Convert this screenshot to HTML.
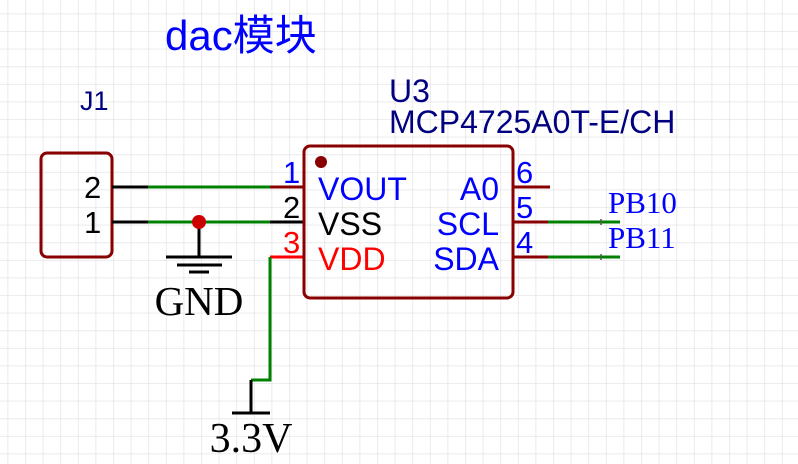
<!DOCTYPE html>
<html><head><meta charset="utf-8"><style>
html,body{margin:0;padding:0;background:#fff;}
svg{display:block;}
text{font-family:"Liberation Sans","Noto Sans CJK SC",sans-serif;}
.s{font-family:"Liberation Serif",serif;}
</style></head><body>
<svg width="798" height="464" viewBox="0 0 798 464" xmlns="http://www.w3.org/2000/svg">
<defs>
<pattern id="g" x="7.5" y="13.5" width="17.6" height="17.6" patternUnits="userSpaceOnUse">
<path d="M0 0V17.6M0 0H17.6" stroke="#e4e4e4" stroke-width="1.5" fill="none"/>
</pattern>
</defs>
<rect width="798" height="464" fill="url(#g)"/>
<text x="165" y="50" font-size="42" fill="#0000ff">dac模块</text>
<text x="80" y="110" font-size="27" fill="#000080">J1</text>
<text x="389" y="102" font-size="32" fill="#000080">U3</text>
<text x="389" y="133" font-size="32" fill="#000080">MCP4725A0T-E/CH</text>
<rect x="41" y="153" width="71" height="104" rx="6" fill="none" stroke="#880000" stroke-width="3"/>
<text x="84" y="198" font-size="31" fill="#000">2</text>
<text x="84" y="233" font-size="31" fill="#000">1</text>
<g stroke-width="3" fill="none">
<path d="M112 187H148M112 222H148" stroke="#000"/>
<path d="M148 187H270M148 222H270" stroke="#008000"/>
<path d="M270 187H304" stroke="#880000"/>
<path d="M270 222H304" stroke="#000"/>
<path d="M270 257H304" stroke="#ff0000"/>
<path d="M270 257V380H251" stroke="#008000"/>
<path d="M251 380V413M232 413H270" stroke="#000"/>
<path d="M199 222V257M166 257H232M177 265H222M189 272H209" stroke="#000"/>
<path d="M513 187H550M513 222H548M513 257H548" stroke="#880000"/>
<path d="M548 222H620M548 257H620" stroke="#008000"/>
<path d="M601 219V225M601 254V260" stroke="#555" stroke-width="1.5"/>
</g>
<circle cx="199" cy="222" r="7" fill="#cc0000"/>
<text class="s" x="199" y="315" font-size="41" text-anchor="middle" fill="#000">GND</text>
<text class="s" x="251" y="452" font-size="42" text-anchor="middle" fill="#000">3.3V</text>
<rect x="304" y="146" width="209" height="152" rx="6" fill="none" stroke="#880000" stroke-width="3"/>
<circle cx="321" cy="162" r="6" fill="#880000"/>
<text x="283" y="183" font-size="31" fill="#0000ff">1</text>
<text x="283" y="218" font-size="31" fill="#000">2</text>
<text x="283" y="253" font-size="31" fill="#ff0000">3</text>
<text x="318" y="200" font-size="32" fill="#0000ff">VOUT</text>
<text x="318" y="235" font-size="32" fill="#000">VSS</text>
<text x="318" y="270" font-size="32" fill="#ff0000">VDD</text>
<text x="499" y="200" font-size="32" fill="#0000ff" text-anchor="end">A0</text>
<text x="499" y="235" font-size="32" fill="#0000ff" text-anchor="end">SCL</text>
<text x="499" y="270" font-size="32" fill="#0000ff" text-anchor="end">SDA</text>
<text x="516" y="183" font-size="31" fill="#0000ff">6</text>
<text x="516" y="218" font-size="31" fill="#0000ff">5</text>
<text x="516" y="253" font-size="31" fill="#0000ff">4</text>
<text class="s" x="608" y="213" font-size="31" fill="#0000ff">PB10</text>
<text class="s" x="608" y="248" font-size="31" fill="#0000ff">PB11</text>
</svg>
</body></html>
